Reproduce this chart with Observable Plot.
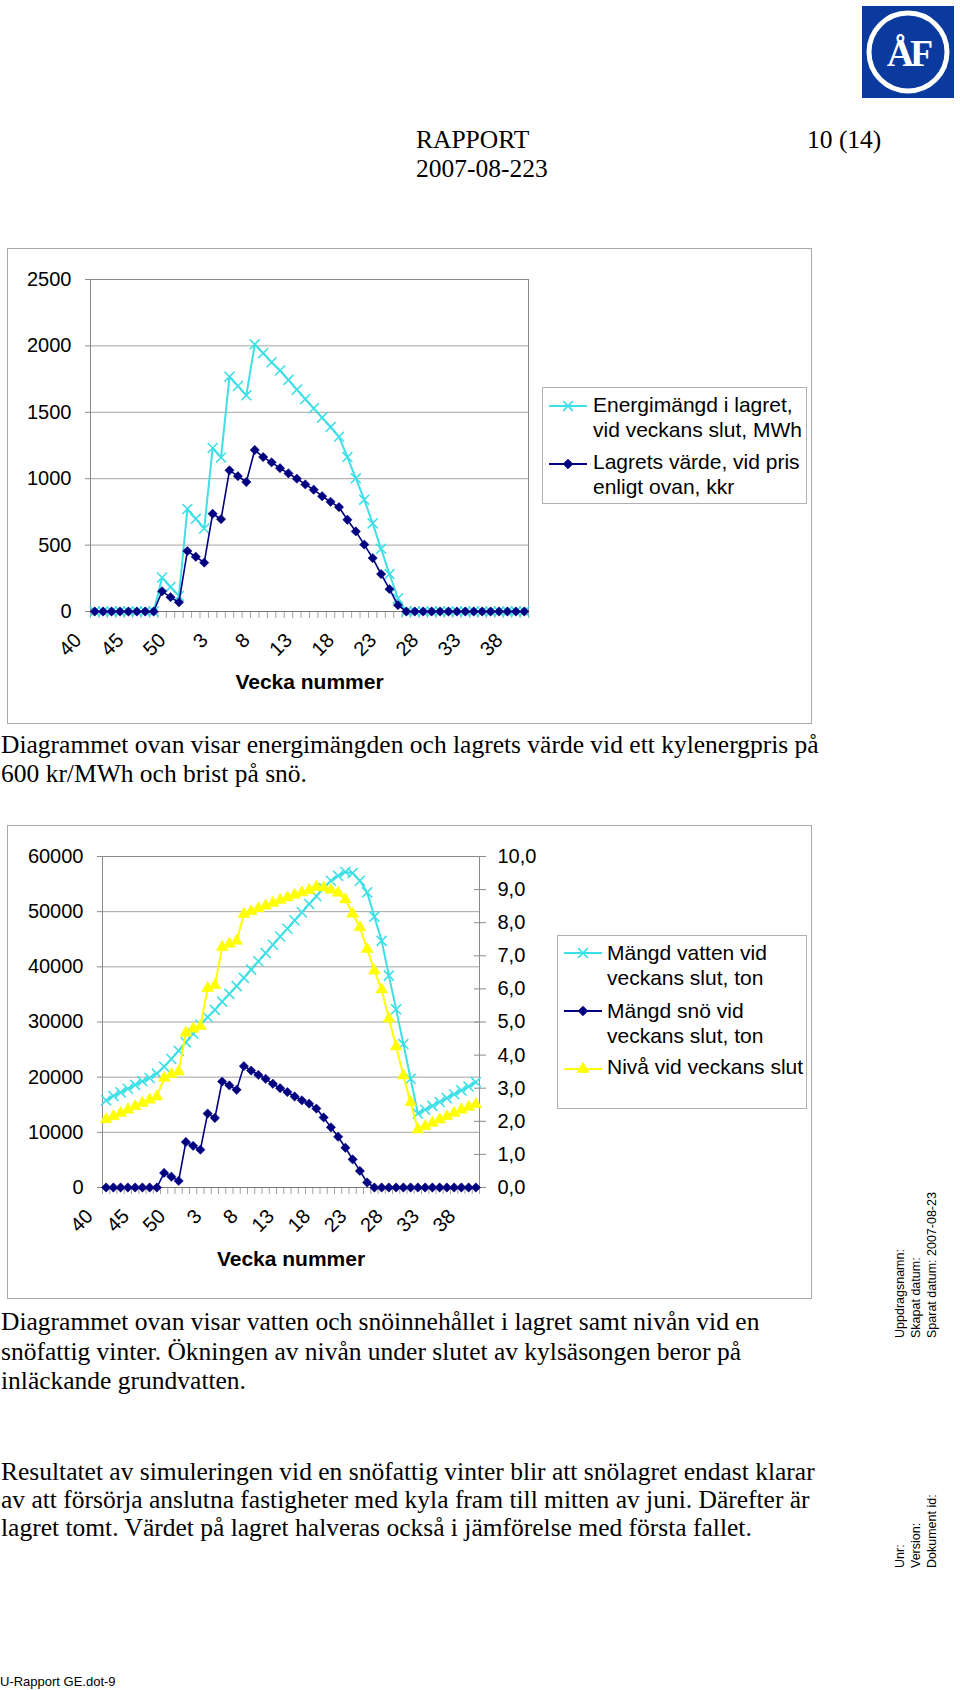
<!DOCTYPE html>
<html><head><meta charset="utf-8">
<script src="https://cdn.jsdelivr.net/npm/d3@7"></script>
<script src="https://cdn.jsdelivr.net/npm/@observablehq/plot@0.6"></script>
<style>
html,body{margin:0;padding:0;background:#fff;}
#page{position:relative;width:960px;height:1690px;overflow:hidden;background:#fff;}
.t{position:absolute;white-space:nowrap;line-height:1;color:#000;}
.serif{font-family:"Liberation Serif","Times New Roman",serif;}
.sans{font-family:"Liberation Sans",Arial,sans-serif;}
</style></head><body><div id="page"></div>
<script>
// ---------------- data ----------------
const weeks = [40,41,42,43,44,45,46,47,48,49,50,51,52,1,2,3,4,5,6,7,8,9,10,11,12,13,14,15,16,17,18,19,20,21,22,23,24,25,26,27,28,29,30,31,32,33,34,35,36,37,38,39];
const xTickLabels = ["40","45","50","3","8","13","18","23","28","33","38"];

// Chart 1
const energy = [0,0,0,0,0,0,0,0,256,185,117,772,698,625,1231,1160,1768,1698,1628,2012,1945,1877,1815,1744,1671,1600,1530,1460,1389,1316,1163,1003,842,664,472,282,98,0,0,0,0,0,0,0,0,0,0,0,0,0,0,0];
const storeValue = [0,0,0,0,0,0,0,0,152,108,69,455,412,368,736,695,1063,1019,975,1216,1163,1123,1079,1040,1000,957,917,868,826,786,691,603,504,402,282,168,48,0,0,0,0,0,0,0,0,0,0,0,0,0,0,0];
const yTicks1 = [0,500,1000,1500,2000,2500];
const series1Names = ["Energimängd i lagret,\nvid veckans slut, MWh","Lagrets värde, vid pris\nenligt ovan, kkr"];

// Chart 2
const water = [15800,16600,17250,17900,18600,19250,19850,20650,21900,23300,24800,26300,27900,29500,30900,32200,33700,35100,36500,38000,39500,41000,42500,44000,45500,46900,48400,49900,51400,52800,54300,55600,56500,57200,57000,55600,53500,49100,44700,38400,32300,26000,19700,13400,14100,14800,15500,16200,16900,17600,18300,19100];
const snow = [0,0,0,0,0,0,0,0,2650,1950,1200,8250,7550,6850,13400,12600,19200,18500,17700,22000,21200,20400,19700,18800,18000,17300,16500,15800,15200,14300,12700,10900,9200,7200,5100,3000,900,0,0,0,0,0,0,0,0,0,0,0,0,0,0,0];
const level = [2.06,2.15,2.25,2.35,2.45,2.55,2.65,2.75,3.31,3.42,3.5,4.67,4.79,4.88,6.02,6.11,7.26,7.36,7.45,8.26,8.34,8.43,8.51,8.59,8.68,8.76,8.84,8.91,8.98,9.08,9.06,8.99,8.9,8.7,8.27,7.86,7.2,6.55,5.98,5.1,4.26,3.38,2.57,1.75,1.85,1.95,2.05,2.15,2.25,2.35,2.43,2.51];
const yTicks2 = [0,10000,20000,30000,40000,50000,60000];
const yTicks2R = [0,1,2,3,4,5,6,7,8,9,10];
const series2Names = ["Mängd vatten vid\nveckans slut, ton","Mängd snö vid\nveckans slut, ton","Nivå vid veckans slut"];

// ---------------- style ----------------
const CYAN = "#3EDFE6", NAVY = "#000080", YELLOW = "#FFFF00";
const GRID = "#a3a3a3", AX = "#8a8a8a";
const page = document.getElementById("page");

function txt(str, x, baseline, o = {}) {
  const size = o.size || 25, serif = o.family !== "sans";
  const asc = serif ? 0.8375 : 0.8465;
  const d = document.createElement("div");
  d.className = "t " + (serif ? "serif" : "sans");
  d.textContent = str;
  Object.assign(d.style, {left: x + "px", top: (baseline - asc * size) + "px", fontSize: size + "px", fontWeight: o.weight || "normal"});
  if (o.sx) { d.style.transform = `scaleX(${o.sx})`; d.style.transformOrigin = "0 0"; }
  page.appendChild(d);
  return d;
}
function vtxt(lines, x, bottom, size, lh) {
  const d = document.createElement("div");
  d.className = "sans";
  Object.assign(d.style, {position: "absolute", left: x + "px", top: bottom + "px", fontSize: size + "px", lineHeight: lh + "px", whiteSpace: "pre", transformOrigin: "0 0", transform: "rotate(-90deg)", color: "#000"});
  d.textContent = lines.join("\n");
  page.appendChild(d);
}
function box(x, y, w, h, color) {
  const d = document.createElement("div");
  Object.assign(d.style, {position: "absolute", left: x + "px", top: y + "px", width: w + "px", height: h + "px", boxSizing: "border-box", border: "1px solid " + color, pointerEvents: "none"});
  page.appendChild(d);
  return d;
}
function legendSymbol(x, yc, color, type, fill, size) {
  const svg = d3.create("svg").attr("width", 40).attr("height", 16)
    .style("position", "absolute").style("left", x + "px").style("top", (yc - 8) + "px");
  svg.append("line").attr("x1", 0).attr("x2", 38).attr("y1", 8).attr("y2", 8).attr("stroke", color).attr("stroke-width", 2);
  svg.append("path").attr("transform", "translate(19,8)").attr("d", d3.symbol(type, size)())
    .attr("fill", fill ? color : "none").attr("stroke", color).attr("stroke-width", fill ? 1 : 1.6);
  page.appendChild(svg.node());
}
const symTimes = d3.symbolTimes || d3.symbolX;

// ---------------- header ----------------
(function logo() {
  const svg = d3.create("svg").attr("width", 92).attr("height", 92)
    .style("position", "absolute").style("left", "862px").style("top", "6px");
  svg.append("rect").attr("width", 92).attr("height", 92).attr("fill", "#0a3a9e");
  svg.append("circle").attr("cx", 46).attr("cy", 46).attr("r", 39).attr("fill", "none").attr("stroke", "#fff").attr("stroke-width", 5);
  svg.append("text").attr("x", 46).attr("y", 60).attr("text-anchor", "middle").attr("fill", "#fff")
    .attr("font-family", "Liberation Serif, serif").attr("font-weight", "bold").attr("font-size", 38).attr("letter-spacing", -4).text("ÅF");
  page.appendChild(svg.node());
})();
const BODY = 25.5;
txt("RAPPORT", 416, 148, {size: BODY});
txt("10 (14)", 807, 148, {size: BODY});
txt("2007-08-223", 416, 177, {size: BODY});

// ---------------- chart 1 ----------------
const rows1 = weeks.map((w, i) => ({i, week: w, energy: energy[i], value: storeValue[i]}));
const bounds = d3.range(weeks.length + 1).map(j => j - 0.5);
const c1 = Plot.plot({
  width: 804, height: 475,
  marginLeft: 83, marginRight: 283, marginTop: 31, marginBottom: 112,
  x: {type: "linear", domain: [-0.5, weeks.length - 0.5]},
  y: {domain: [0, 2500]},
  style: {fontFamily: "Liberation Sans, Arial, sans-serif", fontSize: "20px", color: "#000", background: "transparent", overflow: "visible"},
  marks: [
    Plot.gridY({ticks: yTicks1, stroke: GRID, strokeOpacity: 1}),
    Plot.frame({stroke: AX}),
    Plot.axisY({ticks: yTicks1, tickSize: 5, tickPadding: 14, stroke: AX, fontSize: 20, tickFormat: d => String(d), label: null}),
    Plot.axisX({ticks: bounds, tickSize: 7, stroke: GRID, tickFormat: () => "", label: null}),
    Plot.ruleY([0], {stroke: "#7a7a7a"}),
    Plot.text(xTickLabels, {x: d => weeks.indexOf(+d), frameAnchor: "bottom", text: d => d, rotate: -45, textAnchor: "end", dx: -12, dy: 30, fontSize: 20}),
    Plot.text(["Vecka nummer"], {frameAnchor: "bottom", dy: 77, fontSize: 21, fontWeight: "bold"}),
    Plot.line(rows1, {x: "i", y: "energy", stroke: CYAN, strokeWidth: 2}),
    Plot.dot(rows1, {x: "i", y: "energy", symbol: "times", stroke: CYAN, fill: "none", r: 4.6, strokeWidth: 1.6}),
    Plot.line(rows1, {x: "i", y: "value", stroke: NAVY, strokeWidth: 1.6}),
    Plot.dot(rows1, {x: "i", y: "value", symbol: "diamond2", fill: NAVY, stroke: NAVY, r: 4.2, strokeWidth: 0.5})
  ]
});
const w1 = document.createElement("div");
Object.assign(w1.style, {position: "absolute", left: "7px", top: "248px"});
w1.appendChild(c1);
page.appendChild(w1);
box(7, 248, 805, 476, "#a8a8a8");
// legend 1
box(542, 387, 265, 117, "#b0b0b0");
const l1 = series1Names.map(s => s.split("\n"));
txt(l1[0][0], 593, 412, {size: 21, family: "sans"});
txt(l1[0][1], 593, 437, {size: 21, family: "sans"});
txt(l1[1][0], 593, 469, {size: 21, family: "sans"});
txt(l1[1][1], 593, 494, {size: 21, family: "sans"});
legendSymbol(549, 406, CYAN, symTimes, false, 64);
legendSymbol(549, 464, NAVY, d3.symbolDiamond2, true, 56);

// captions 1
txt("Diagrammet ovan visar energimängden och lagrets värde vid ett kylenergpris på", 1, 753, {size: BODY});
txt("600 kr/MWh och brist på snö.", 1, 782, {size: BODY});

// ---------------- chart 2 ----------------
const kR = yTicks2[yTicks2.length - 1] / yTicks2R[yTicks2R.length - 1];
const rows2 = weeks.map((w, i) => ({i, week: w, water: water[i], snow: snow[i], level: level[i] * kR}));
const fmtR = d => (d / kR).toFixed(1).replace(".", ",");
const c2 = Plot.plot({
  width: 804, height: 473,
  marginLeft: 95, marginRight: 332, marginTop: 31, marginBottom: 111,
  x: {type: "linear", domain: [-0.5, weeks.length - 0.5]},
  y: {domain: [0, 60000]},
  style: {fontFamily: "Liberation Sans, Arial, sans-serif", fontSize: "20px", color: "#000", background: "transparent", overflow: "visible"},
  marks: [
    Plot.gridY({ticks: yTicks2, stroke: GRID, strokeOpacity: 1}),
    Plot.frame({stroke: AX}),
    Plot.axisY({ticks: yTicks2, tickSize: 5, tickPadding: 14, stroke: AX, fontSize: 20, tickFormat: d => String(d), label: null}),
    Plot.axisY({anchor: "right", ticks: yTicks2R.map(v => v * kR), tickSize: 6, tickPadding: 12, stroke: AX, fontSize: 20, tickFormat: fmtR, label: null}),
    Plot.axisY({anchor: "right", ticks: yTicks2R.map(v => v * kR), tickSize: 6, dx: -6, stroke: AX, tickFormat: () => "", label: null}),
    Plot.axisX({ticks: bounds, tickSize: 7, stroke: GRID, tickFormat: () => "", label: null}),
    Plot.ruleY([0], {stroke: "#7a7a7a"}),
    Plot.text(xTickLabels, {x: d => weeks.indexOf(+d), frameAnchor: "bottom", text: d => d, rotate: -45, textAnchor: "end", dx: -12, dy: 30, fontSize: 20}),
    Plot.text(["Vecka nummer"], {frameAnchor: "bottom", dy: 78, fontSize: 21, fontWeight: "bold"}),
    Plot.line(rows2, {x: "i", y: "water", stroke: CYAN, strokeWidth: 2}),
    Plot.dot(rows2, {x: "i", y: "water", symbol: "times", stroke: CYAN, fill: "none", r: 4.6, strokeWidth: 1.6}),
    Plot.line(rows2, {x: "i", y: "snow", stroke: NAVY, strokeWidth: 1.6}),
    Plot.dot(rows2, {x: "i", y: "snow", symbol: "diamond2", fill: NAVY, stroke: NAVY, r: 4.2, strokeWidth: 0.5}),
    Plot.line(rows2, {x: "i", y: "level", stroke: YELLOW, strokeWidth: 2}),
    Plot.dot(rows2, {x: "i", y: "level", symbol: "triangle", fill: YELLOW, stroke: YELLOW, r: 4.4, strokeWidth: 0.5})
  ]
});
const w2 = document.createElement("div");
Object.assign(w2.style, {position: "absolute", left: "7px", top: "825px"});
w2.appendChild(c2);
page.appendChild(w2);
box(7, 825, 805, 474, "#a8a8a8");
// legend 2
box(557, 935, 250, 174, "#b0b0b0");
const l2 = series2Names.map(s => s.split("\n"));
txt(l2[0][0], 607, 960, {size: 21, family: "sans"});
txt(l2[0][1], 607, 985, {size: 21, family: "sans"});
txt(l2[1][0], 607, 1018, {size: 21, family: "sans"});
txt(l2[1][1], 607, 1043, {size: 21, family: "sans"});
txt(l2[2][0], 607, 1074, {size: 21, family: "sans"});
legendSymbol(564, 953, CYAN, symTimes, false, 64);
legendSymbol(564, 1011, NAVY, d3.symbolDiamond2, true, 56);
legendSymbol(564, 1069, YELLOW, d3.symbolTriangle, true, 56);

// captions 2
txt("Diagrammet ovan visar vatten och snöinnehållet i lagret samt nivån vid en", 1, 1330, {size: BODY});
txt("snöfattig vinter. Ökningen av nivån under slutet av kylsäsongen beror på", 1, 1360, {size: BODY});
txt("inläckande grundvatten.", 1, 1389, {size: BODY});

// paragraph
txt("Resultatet av simuleringen vid en snöfattig vinter blir att snölagret endast klarar", 1, 1480, {size: BODY});
txt("av att försörja anslutna fastigheter med kyla fram till mitten av juni. Därefter är", 1, 1508, {size: BODY});
txt("lagret tomt. Värdet på lagret halveras också i jämförelse med första fallet.", 1, 1536, {size: BODY});

// side texts
vtxt(["Uppdragsnamn:", "Skapat datum:", "Sparat datum: 2007-08-23"], 892, 1338, 12.5, 16);
vtxt(["Unr:", "Version:", "Dokument id:"], 892, 1568, 12.5, 16);

// footer
txt("U-Rapport GE.dot-9", 0, 1686, {size: 13, family: "sans"});
</script></body></html>
